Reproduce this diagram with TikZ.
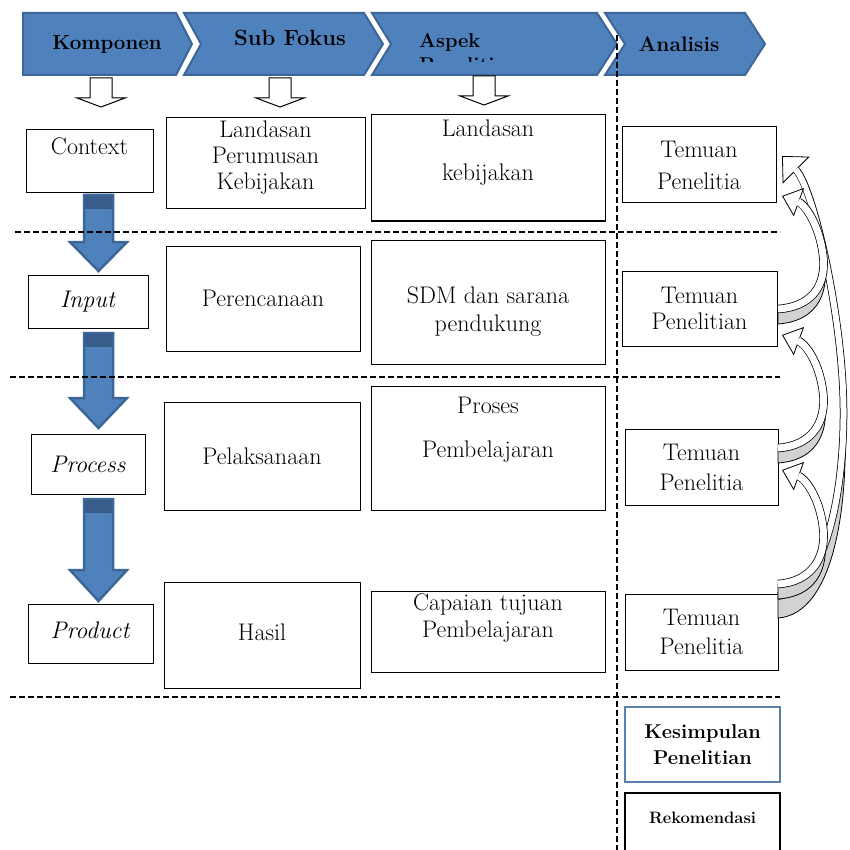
\documentclass[tikz,border=0pt]{standalone}
\usetikzlibrary{arrows.meta}
\definecolor{chevfill}{HTML}{4F81BD}
\definecolor{chevline}{HTML}{3C6696}
\definecolor{bandblue}{HTML}{385D8A}
\definecolor{kesline}{HTML}{5B80AE}

\begin{document}
\begin{tikzpicture}[x = 1pt, y = -1pt,
    every node/.style = {font = \fontsize{24}{26}\selectfont, inner sep = 0pt},
    box/.style = {draw, line width = 1pt, rectangle},
    head/.style = {font = \fontsize{20}{24}\selectfont\bfseries},
    chev/.style = {fill = chevfill, draw = chevline, line width = 2pt},
    hollow/.style = {fill = white, draw = black, line width = 1pt},
    downarrow/.style = {fill = chevfill, draw = chevline, line width = 2.5pt},
    sep/.style = {line width = 1.2pt, dash pattern = on 6pt off 3pt},
    backside/.style = {fill = gray!35, draw = black, line width = 0.8pt},
    band/.style = {draw = black, line width = #1},
    tipA/.style = {-{Triangle[fill = white, line width = 0.8pt, length = 18pt, width = 30pt]}},
    tipD/.style = {-{Triangle[fill = white, line width = 0.8pt, length = 20pt, width = 38pt]}}]

\useasboundingbox (0,0) rectangle (850,850);

\draw[chev] (23,13) -- (176,13) -- (192,44) -- (176,75) -- (23,75) -- cycle;
\draw[chev] (184,13) -- (364,13) -- (383,44) -- (364,75) -- (184,75) -- (201,44) -- cycle;
\draw[chev] (372,13) -- (597,13) -- (617,44) -- (597,75) -- (372,75) -- (391,44) -- cycle;
\draw[chev] (605,13) -- (745,13) -- (765,44) -- (745,75) -- (605,75) -- (625,44) -- cycle;

\node[head, font = \fontsize{20.5}{24}\selectfont\bfseries] (komp) at (107,44) {Komponen};
\node[head, font = \fontsize{22}{24}\selectfont\bfseries] (subf) at (290,38) {Sub Fokus};
\begin{scope}
  \clip (372,13) rectangle (600,62);
  \node[head, align = left, anchor = north west] (aspk) at (419,33) {Aspek\\Penelitian};
\end{scope}
\node[head, font = \fontsize{21}{24}\selectfont\bfseries] (anls) at (679,44) {Analisis};

\foreach \x/\y in {101/78, 280/78, 484/76}
  \draw[hollow] (\x-11,\y) -- (\x+11,\y) -- (\x+11,\y+20) -- (\x+24,\y+20) -- (\x,\y+29)
    -- (\x-24,\y+20) -- (\x-11,\y+20) -- cycle;

\foreach \t/\b/\p in {195/242/271, 333/398/428, 499/570/601} {
  \draw[downarrow] (84,\t) -- (113,\t) -- (113,\b) -- (127,\b) -- (98.5,\p) -- (70,\b)
    -- (84,\b) -- cycle;
  \fill[bandblue] (85,\t+1) rectangle (112,\t+14);
}

\node[box, minimum width = 127, minimum height = 63] (ctx) at (89.5,161.5) {};
\node (ctxt) at (89.5,146) {Context};
\node[box, minimum width = 120, minimum height = 53] (inp) at (88,301.5) {\textit{Input}};
\node[box, minimum width = 114, minimum height = 60] (prc) at (88,464) {\textit{Process}};
\node[box, minimum width = 125, minimum height = 59] (prd) at (90.5,633.5) {};
\node (prdt) at (90.5,630) {\textit{Product}};

\node[box, minimum width = 199, minimum height = 91] (lpk) at (265.5,163.5) {};
\node[align = center] (lpkt) at (265.5,158) {Landasan\\Perumusan\\Kebijakan};
\node[box, minimum width = 194, minimum height = 105] (per) at (263,298.5) {Perencanaan};
\node[box, minimum width = 196, minimum height = 108] (pel) at (262,456) {Pelaksanaan};
\node[box, minimum width = 196, minimum height = 106] (has) at (262,635) {};
\node (hast) at (262,632) {Hasil};

\node[box, minimum width = 234, minimum height = 106] (lkb) at (488,168) {};
\node[align = center] (lkbt) at (488,153) {Landasan\\[18pt]kebijakan};
\node[box, minimum width = 234, minimum height = 124] (sdm) at (488,302) {};
\node[align = center] (sdmt) at (488,312) {SDM dan sarana\\[2pt]pendukung};
\node[box, minimum width = 234, minimum height = 124] (prs) at (488,448) {};
\node[align = center] (prst) at (488,430) {Proses\\[18pt]Pembelajaran};
\node[box, minimum width = 234, minimum height = 81] (cpt) at (488,631.5) {};
\node[align = center] (cptt) at (488,618.5) {Capaian tujuan\\[1pt]Pembelajaran};

\node[box, align = center, minimum width = 154, minimum height = 76] (tm1) at (699,165) {Temuan\\[6pt]Penelitia};
\node[box, align = center, minimum width = 155, minimum height = 75] (tm2) at (699.5,308.5) {Temuan\\Penelitian};
\node[box, align = center, minimum width = 153, minimum height = 76] (tm3) at (701.5,467) {Temuan\\[4pt]Penelitia};
\node[box, align = center, minimum width = 153, minimum height = 76] (tm4) at (701.5,632) {Temuan\\[3pt]Penelitia};

\node[box, draw = kesline, line width = 2.2pt, align = center, minimum width = 155,
  minimum height = 75, font = \fontsize{20}{26}\selectfont\bfseries] (kes) at (702.5,744.5) {Kesimpulan\\Penelitian};
\node[box, line width = 2pt, minimum width = 155, minimum height = 62] (rek) at (702.5,824) {};
\node[font = \fontsize{16.5}{20}\selectfont\bfseries] (rekt) at (702.5,818) {Rekomendasi};

\foreach \y/\s in {232/15, 377/10, 697/10}
  \draw[sep] (\s,\y) -- (780,\y);
\draw[sep] (617,35) -- (617,850);

\draw[backside] (778,618) .. controls (835,614) and (852,500) .. (843,390)
  .. controls +(4,90) and +(50,-5) .. (778,596) -- cycle;
\draw[band = 7.5pt, tipD] (778,596) .. controls +(50,-5) and +(4,90) .. (843,390)
  .. controls +(-4,-90) and +(30,30) .. (782,156);
\draw[white, line width = 6pt, shorten > = 19pt] (778,596) .. controls +(50,-5) and +(4,90) .. (843,390)
  .. controls +(-4,-90) and +(30,30) .. (782,156);

\foreach \tl/\md/\hd in {309/255/196, 448/392/335, 584/527/470} {
  \draw[backside] (778,\tl+15) .. controls (820,\tl+12) and (831,\tl-20) .. (823,\md)
    .. controls +(4,32) and +(32,-2) .. (778,\tl) -- cycle;
  \draw[band = 8.5pt, tipA] (778,\tl) .. controls +(32,-2) and +(4,32) .. (823,\md)
    .. controls +(-4,-32) and +(22,8) .. (782,\hd);
  \draw[white, line width = 7pt, shorten > = 17pt] (778,\tl) .. controls +(32,-2) and +(4,32) .. (823,\md)
    .. controls +(-4,-32) and +(22,8) .. (782,\hd);
}
\end{tikzpicture}
\end{document}
